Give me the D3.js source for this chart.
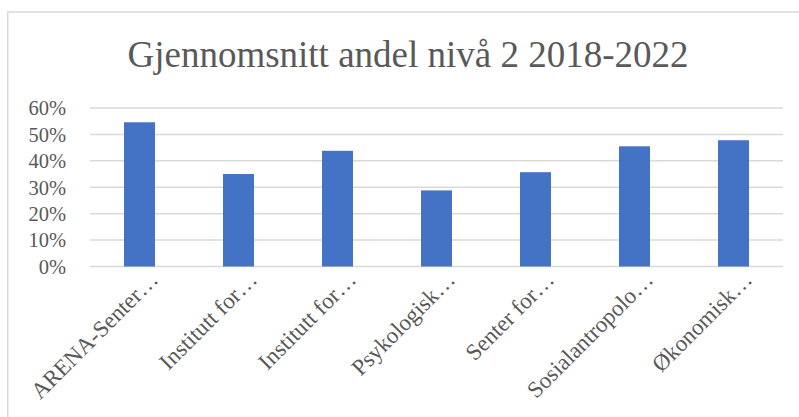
<!DOCTYPE html>
<html>
<head>
<meta charset="utf-8">
<script src="https://cdn.jsdelivr.net/npm/d3@7"></script>
<style>
  body { margin: 0; background: #fff; }
</style>
</head>
<body>
<script>
// data
var categories = ["ARENA-Senter\u2026", "Institutt for\u2026", "Institutt for\u2026", "Psykologisk\u2026",
                  "Senter for\u2026", "Sosialantropolo\u2026", "\u00D8konomisk\u2026"];
var values = [0.546, 0.350, 0.438, 0.288, 0.357, 0.455, 0.478];
var yTicks = [0, 0.1, 0.2, 0.3, 0.4, 0.5, 0.6];
var title = "Gjennomsnitt andel niv\u00E5 2 2018-2022";

var width = 799, height = 417;
var serif = "'Liberation Serif', 'Times New Roman', serif";
var textColor = "#595959";

var svg = d3.select("body").append("svg")
    .attr("width", width)
    .attr("height", height);

// chart frame (right and bottom fall outside the picture)
svg.append("rect")
    .attr("x", 7.75).attr("y", 12)
    .attr("width", 820).attr("height", 450)
    .attr("fill", "none")
    .attr("stroke", "#d9d9d9")
    .attr("stroke-width", 1.5);

svg.append("text")
    .attr("x", 408).attr("y", 67)
    .attr("text-anchor", "middle")
    .style("font-family", serif)
    .style("font-size", "37px")
    .style("fill", textColor)
    .text(title);

var x = d3.scaleBand()
    .domain(d3.range(categories.length))
    .range([90, 783])
    .paddingInner(0.687)
    .paddingOuter(0.3435);

var y = d3.scaleLinear()
    .domain([0, 0.6])
    .range([266.5, 108]);

// gridlines
svg.append("g")
    .selectAll("line")
    .data(yTicks)
    .enter().append("line")
        .attr("x1", 90).attr("x2", 783)
        .attr("y1", function(d){ return y(d); })
        .attr("y2", function(d){ return y(d); })
        .attr("stroke", "#d9d9d9")
        .attr("stroke-width", 1.5);

// y axis labels
var yAxis = d3.axisLeft(y)
    .tickValues(yTicks)
    .tickFormat(d3.format(".0%"))
    .tickSize(0)
    .tickPadding(0);

var gy = svg.append("g")
    .attr("transform", "translate(66,0)")
    .call(yAxis);
gy.select(".domain").remove();
gy.selectAll("text")
    .attr("dy", "0.33em")
    .style("font-family", serif)
    .style("font-size", "20.5px")
    .style("fill", textColor);

// bars
svg.append("g")
    .selectAll("rect")
    .data(values)
    .enter().append("rect")
        .attr("x", function(d,i){ return x(i); })
        .attr("y", function(d){ return y(d); })
        .attr("width", x.bandwidth())
        .attr("height", function(d){ return y(0) - y(d); })
        .attr("fill", "#4472c4");

// x axis labels, rotated
svg.append("g")
    .selectAll("text")
    .data(categories)
    .enter().append("text")
        .attr("text-anchor", "end")
        .attr("transform", function(d,i){
            var cx = x(i) + x.bandwidth()/2 + 20;
            return "translate(" + cx + ",281) rotate(-45)";
        })
        .style("font-family", serif)
        .style("font-size", "23px")
        .style("fill", textColor)
        .text(function(d){ return d; });
</script>
</body>
</html>
